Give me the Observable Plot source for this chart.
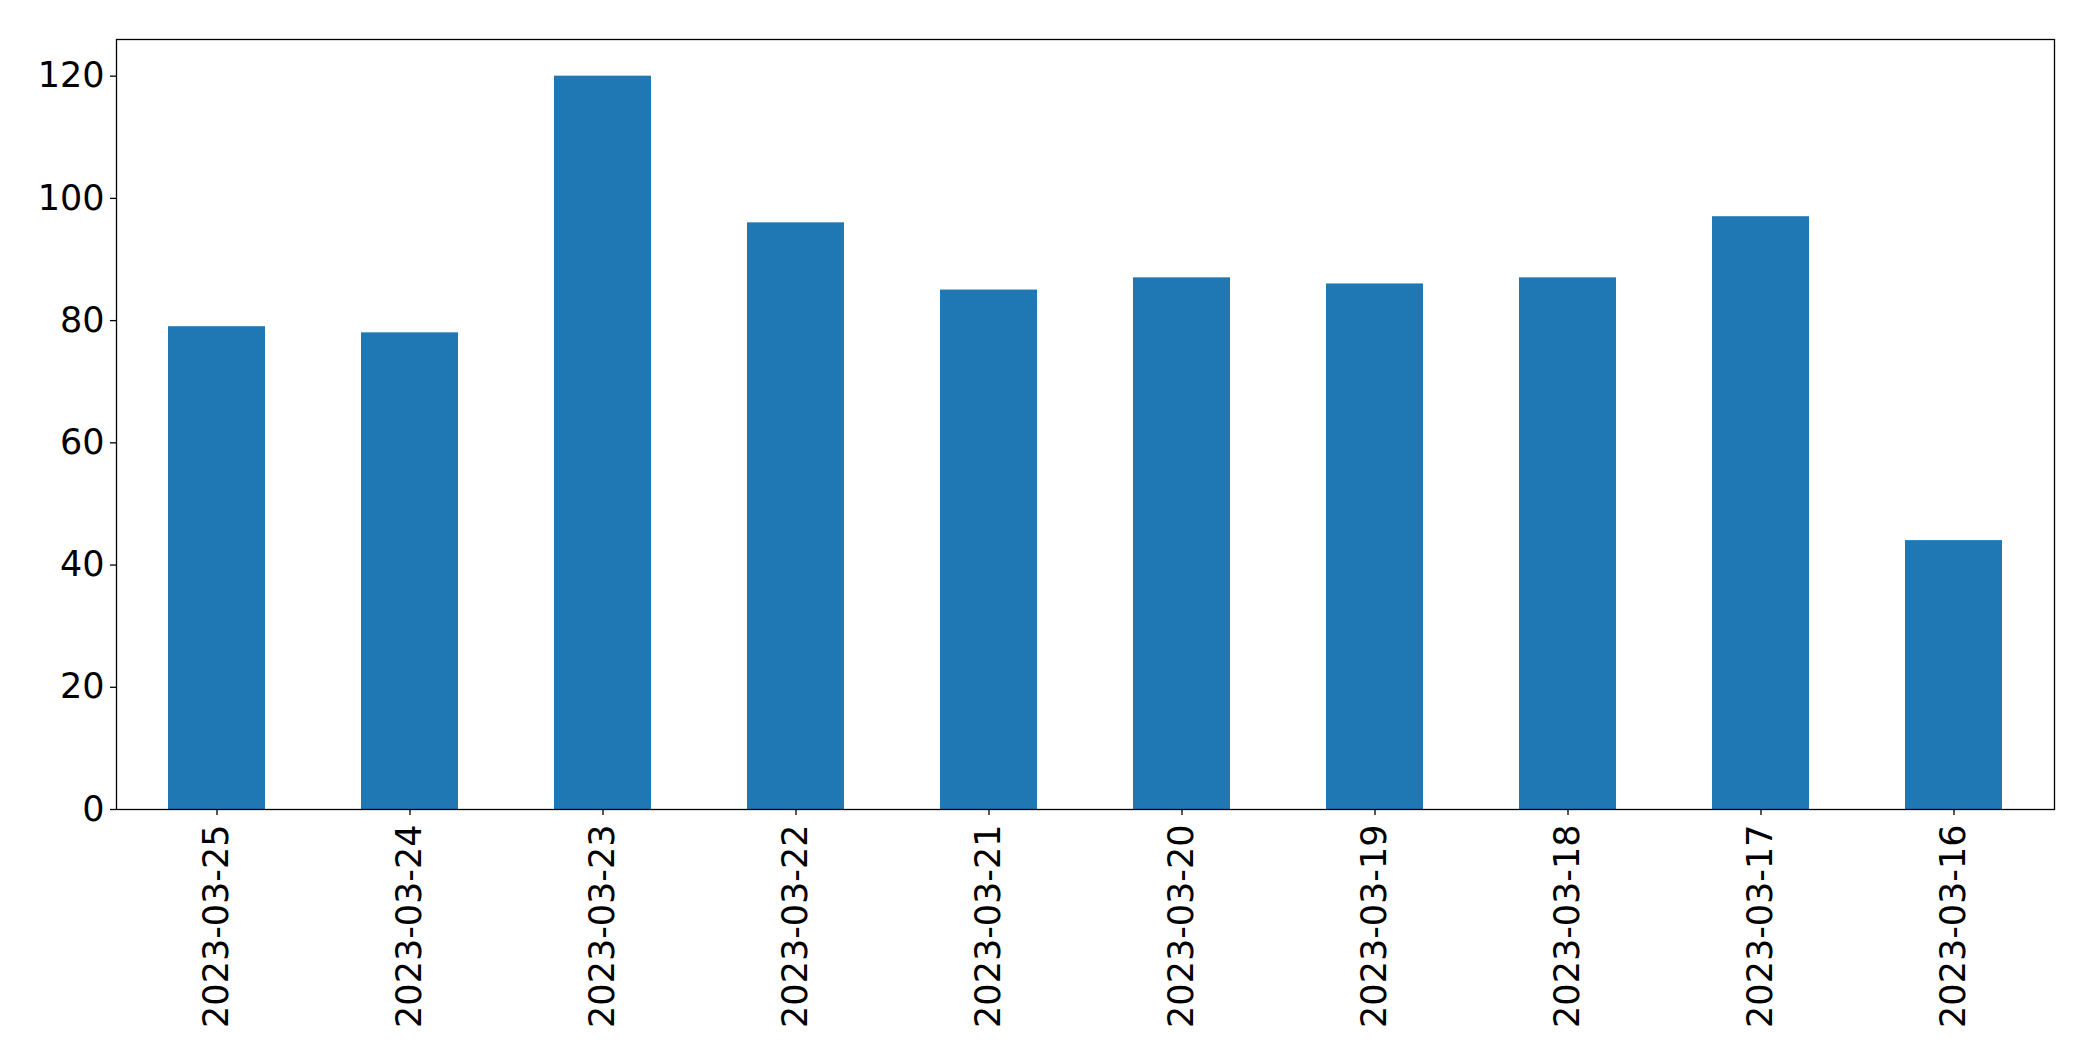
<!DOCTYPE html>
<html>
<head>
<meta charset="utf-8">
<script src="https://cdn.jsdelivr.net/npm/d3@7"></script>
<script src="https://cdn.jsdelivr.net/npm/@observablehq/plot@0.6"></script>
<style>
  html, body { margin: 0; padding: 0; background: #fff; }
  svg { display: block; }
</style>
</head>
<body>
<div id="chart"></div>
<script>
const dates = ["2023-03-25","2023-03-24","2023-03-23","2023-03-22","2023-03-21","2023-03-20","2023-03-19","2023-03-18","2023-03-17","2023-03-16"];
const counts = [79, 78, 120, 96, 85, 87, 86, 87, 97, 44];
const yTicks = [0, 20, 40, 60, 80, 100, 120];

const data = dates.map((d, i) => ({date: d, count: counts[i]}));

const chart = Plot.plot({
  width: 2093,
  height: 1061,
  marginLeft: 116,
  marginRight: 39,
  marginTop: 39,
  marginBottom: 252,
  style: {fontFamily: "DejaVu Sans", fontSize: "35px", color: "#000", background: "#fff"},
  x: {domain: dates, paddingInner: 0.5, paddingOuter: 0.25, label: null},
  y: {domain: [0, 126], label: null},
  marks: [
    Plot.barY(data, {x: "date", y: "count", fill: "#1f77b4"}),
    Plot.frame({stroke: "#000", strokeWidth: 1.3}),
    Plot.axisY({ticks: yTicks, tickSize: 6, tickPadding: 6, fontSize: 35, label: null, stroke: "#000", strokeWidth: 1.3}),
    Plot.axisX({tickSize: 6, tickPadding: 9, tickRotate: -90, fontSize: 35, label: null, stroke: "#000", strokeWidth: 1.3})
  ]
});
document.getElementById("chart").appendChild(chart);
</script>
</body>
</html>
